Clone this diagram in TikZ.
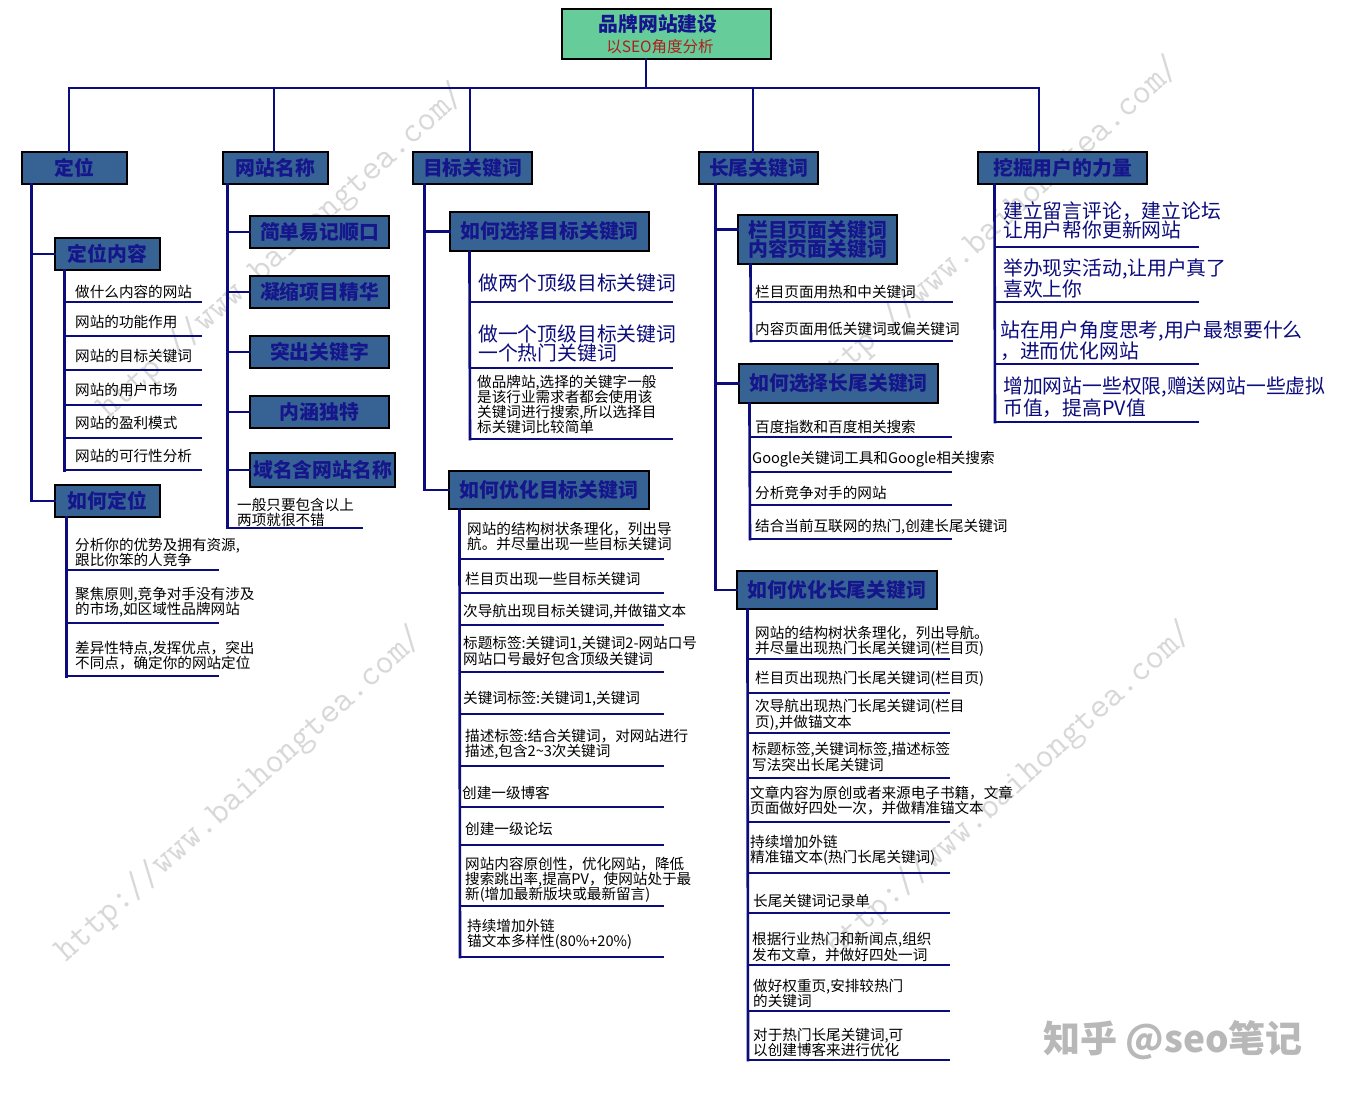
\documentclass[tikz,border=0pt]{standalone}
\usepackage{fontspec}
\setmainfont{Noto Sans CJK SC}
\definecolor{navy}{RGB}{12,12,125}
\definecolor{boxblue}{RGB}{54,98,148}
\definecolor{boxtext}{RGB}{22,22,140}
\definecolor{rootgreen}{RGB}{102,204,153}
\definecolor{rootred}{RGB}{175,30,30}
\definecolor{wmgray}{RGB}{216,216,216}
\newcommand\ulitem[7]{%
  \node[itemtxt] (#1) at (#2,#3) {#4};
  \draw[conn] (#5,#6) -- (#7,#6);}
\newcommand\nvitem[7]{%
  \node[navytxt] (#1) at (#2,#3) {#4};
  \draw[conn] (#5,#6) -- (#7,#6);}
\begin{document}
\begin{tikzpicture}[x=1pt,y=-1pt,
  conn/.style={draw=navy,line width=2.6pt,line cap=rect},
  bbox/.style={draw=black,line width=1.1pt,fill=boxblue,text=boxtext,
    font=\fontsize{19.8}{19.5}\selectfont\bfseries,inner sep=0pt,align=center},
  itemtxt/.style={anchor=west,inner sep=0pt,align=left,text=black,
    font=\fontsize{14.6}{15.2}\selectfont},
  navytxt/.style={anchor=west,inner sep=0pt,align=left,text=navy,
    font=\fontsize{19.8}{19}\selectfont},
  wmark/.style={text=wmgray,font=\fontsize{36}{36}\selectfont\ttfamily,rotate=42,inner sep=0pt}]
\fill[white] (0,0) rectangle (1354,1095);
\useasboundingbox (0,0) rectangle (1354,1095);

% watermarks
\node[wmark] (wm1) at (240,795) {http://www.baihongtea.com/};
\node[wmark] (wm2) at (282,252) {http://www.baihongtea.com/};
\node[wmark] (wm3) at (997,225) {http://www.baihongtea.com/};
\node[wmark] (wm4) at (1010,790) {http://www.baihongtea.com/};
\node[anchor=west,inner sep=0pt,text=black!28,font=\fontsize{37}{37}\selectfont\bfseries] (zh) at (1043,1040) {知乎 @seo笔记};

% root
\node[draw=black,line width=1.1pt,fill=rootgreen,minimum width=209pt,minimum height=50pt,inner sep=0pt] (root) at (666.5,34) {};
\node[inner sep=0pt,text=boxtext,font=\fontsize{19.8}{22}\selectfont\bfseries] (rt) at (658,24) {品牌网站建设};
\node[inner sep=0pt,text=rootred,font=\fontsize{15.5}{18}\selectfont] (rs) at (660,47) {以SEO角度分析};

% level 1 boxes
\node[bbox,minimum width=105pt,minimum height=32pt] (dw) at (74.5,168) {定位};
\node[bbox,minimum width=105pt,minimum height=32pt] (wz) at (275.5,168) {网站名称};
\node[bbox,minimum width=119pt,minimum height=32pt] (mb) at (472.5,168) {目标关键词};
\node[bbox,minimum width=119pt,minimum height=32pt] (cw) at (758.5,168) {长尾关键词};
\node[bbox,minimum width=169pt,minimum height=32pt] (wj) at (1062.5,168) {挖掘用户的力量};

% bus
\coordinate (rj) at (646,88);
\coordinate (j1) at (69,88);
\coordinate (j2) at (274,88);
\coordinate (j3) at (470,88);
\coordinate (j4) at (753,88);
\coordinate (j5) at (1039,88);
\draw[conn] (rj |- root.south) -- (rj);
\draw[conn] (j1) -- (j5);
\draw[conn] (j1) -- (j1 |- dw.north);
\draw[conn] (j2) -- (j2 |- wz.north);
\draw[conn] (j3) -- (j3 |- mb.north);
\draw[conn] (j4) -- (j4 |- cw.north);
\draw[conn] (j5) -- (j5 |- wj.north);

% ---------- column 1 ----------
\node[bbox,minimum width=105pt,minimum height=32pt] (dwnr) at (107.5,254) {定位内容};
\node[bbox,minimum width=105pt,minimum height=32pt] (hwdw) at (107.5,501) {如何定位};
\coordinate (T1) at ([xshift=10pt]dw.south west);
\draw[conn] (T1) |- (hwdw.west);
\draw[conn] (T1 |- dwnr.west) -- (dwnr.west);
\draw[conn] ([xshift=10pt]dwnr.south west) -- ++(0,200);
\ulitem{a1}{75}{292}{做什么内容的网站}{65}{302}{201}
\ulitem{a2}{75}{322}{网站的功能作用}{65}{336}{201}
\ulitem{a3}{75}{356}{网站的目标关键词}{65}{370}{201}
\ulitem{a4}{75}{390}{网站的用户市场}{65}{405}{201}
\ulitem{a5}{75}{423}{网站的盈利模式}{65}{438}{201}
\ulitem{a6}{75}{456}{网站的可行性分析}{65}{470}{201}
\draw[conn] ([xshift=12pt]hwdw.south west) -- ++(0,159);
\ulitem{b1}{75}{552.5}{分析你的优势及拥有资源,\\跟比你笨的人竞争}{67}{570}{218}
\ulitem{b2}{75}{602.5}{聚焦原则,竞争对手没有涉及\\的市场,如区域性品牌网站}{67}{623}{218}
\ulitem{b3}{75}{655.5}{差异性特点,发挥优点，突出\\不同点，确定你的网站定位}{67}{676}{218}

% ---------- column 2 ----------
\node[bbox,minimum width=139pt,minimum height=32pt] (jd) at (319.5,232) {简单易记顺口};
\node[bbox,minimum width=139pt,minimum height=32pt] (ns) at (319.5,292) {凝缩项目精华};
\node[bbox,minimum width=139pt,minimum height=32pt] (tc) at (319.5,352) {突出关键字};
\node[bbox,minimum width=139pt,minimum height=32pt] (nh) at (319.5,412) {内涵独特};
\node[bbox,minimum width=145pt,minimum height=34pt] (ym) at (322.5,470) {域名含网站名称};
\coordinate (T2) at ([xshift=5pt]wz.south west);
\draw[conn] (T2) |- (362,528);
\draw[conn] (T2 |- jd.west) -- (jd.west);
\draw[conn] (T2 |- ns.west) -- (ns.west);
\draw[conn] (T2 |- tc.west) -- (tc.west);
\draw[conn] (T2 |- nh.west) -- (nh.west);
\draw[conn] (T2 |- ym.west) -- (ym.west);
\node[itemtxt] (n2) at (237,512.5) {一般只要包含以上\\两项就很不错};

% ---------- column 3 ----------
\node[bbox,minimum width=199pt,minimum height=39pt] (xz) at (549.5,231.5) {如何选择目标关键词};
\node[bbox,minimum width=200pt,minimum height=38pt] (yh) at (549,490) {如何优化目标关键词};
\coordinate (T3) at ([xshift=12pt]mb.south west);
\draw[conn] (T3) |- (yh.west);
\draw[conn] (T3 |- xz.west) -- (xz.west);
\draw[conn] ([xshift=20pt]xz.south west) -- (470,439);
\nvitem{c1}{478}{283}{做两个顶级目标关键词}{470}{302}{672}
\nvitem{c2}{478}{343.5}{做一个顶级目标关键词\\一个热门关键词}{470}{368}{672}
\ulitem{c3}{477}{404.5}{做品牌站,选择的关键字一般\\是该行业需求者都会使用该\\关键词进行搜索,所以选择目\\标关键词比较简单}{470}{439}{672}
\draw[conn] ([xshift=11pt]yh.south west) -- (460,957);
\ulitem{d1}{467}{536.5}{网站的结构树状条理化，列出导\\航。并尽量出现一些目标关键词}{460}{559}{663}
\ulitem{d2}{465}{579}{栏目页出现一些目标关键词}{460}{593}{663}
\ulitem{d3}{463}{612}{次导航出现目标关键词,并做锚文本}{460}{625}{663}
\ulitem{d4}{463}{651}{标题标签:关键词1,关键词2-网站口号\\网站口号最好包含顶级关键词}{460}{672}{663}
\ulitem{d5}{463}{699}{关键词标签:关键词1,关键词}{460}{714}{663}
\ulitem{d6}{465}{744.5}{描述标签:结合关键词，对网站进行\\描述,包含2\textasciitilde3次关键词}{460}{766}{663}
\ulitem{d7}{462}{793}{创建一级博客}{460}{807}{663}
\ulitem{d8}{465}{829}{创建一级论坛}{460}{845}{663}
\ulitem{d9}{465}{880}{网站内容原创性，优化网站，降低\\搜索跳出率,提高PV，使网站处于最\\新(增加最新版块或最新留言)}{460}{906}{663}
\ulitem{d10}{467}{934.5}{持续增加外链\\锚文本多样性(80\%+20\%)}{460}{957}{663}

% ---------- column 4 ----------
\node[bbox,minimum width=159pt,minimum height=49pt] (lm) at (817.5,239.5) {栏目页面关键词\\内容页面关键词};
\node[bbox,minimum width=199pt,minimum height=39pt] (xc) at (838.5,383.5) {如何选择长尾关键词};
\node[bbox,minimum width=200pt,minimum height=38pt] (yc) at (837,590) {如何优化长尾关键词};
\coordinate (T4) at ([xshift=17pt]cw.south west);
\coordinate (lmw) at ([yshift=10pt]lm.west);
\draw[conn] (T4) |- (yc.west);
\draw[conn] (T4 |- lmw) -- (lmw);
\draw[conn] (T4 |- xc.west) -- (xc.west);
\draw[conn] ([xshift=13pt]lm.south west) -- (751,341);
\ulitem{e1}{755}{292}{栏目页面用热和中关键词}{751}{302}{952}
\ulitem{e2}{755}{329}{内容页面用低关键词或偏关键词}{751}{341}{952}
\draw[conn] ([xshift=11pt]xc.south west) -- (750,539);
\ulitem{f1}{755}{427}{百度指数和百度相关搜索}{750}{437}{951}
\ulitem{f2}{752}{459}{Google关键词工具和Google相关搜索}{750}{472}{951}
\ulitem{f3}{755}{493}{分析竞争对手的网站}{750}{505}{951}
\ulitem{f4}{755}{527}{结合当前互联网的热门,创建长尾关键词}{750}{539}{951}
\draw[conn] ([xshift=11pt]yc.south west) -- (748,1060);
\ulitem{g1}{755}{641}{网站的结构树状条理化，列出导航。\\并尽量出现热门长尾关键词(栏目页)}{748}{659}{949}
\ulitem{g2}{755}{679}{栏目页出现热门长尾关键词(栏目页)}{748}{693}{949}
\ulitem{g3}{755}{714.5}{次导航出现热门长尾关键词(栏目\\页),并做锚文本}{748}{733}{949}
\ulitem{g4}{752}{757}{标题标签,关键词标签,描述标签\\写法突出长尾关键词}{748}{778}{949}
\ulitem{g5}{750}{800.5}{文章内容为原创或者来源电子书籍，文章\\页面做好四处一次，并做精准锚文本}{748}{822}{949}
\ulitem{g6}{750}{850}{持续增加外链\\精准锚文本(热门长尾关键词)}{748}{873}{949}
\ulitem{g7}{753}{901}{长尾关键词记录单}{748}{913}{949}
\ulitem{g8}{752}{947}{根据行业热门和新闻点,组织\\发布文章，并做好四处一词}{748}{965}{949}
\ulitem{g9}{753}{993.5}{做好权重页,安排较热门\\的关键词}{748}{1011}{949}
\ulitem{g10}{753}{1042.5}{对于热门长尾关键词,可\\以创建博客来进行优化}{748}{1060}{949}

% ---------- column 5 ----------
\draw[conn] ([xshift=17pt]wj.south west) -- (995,422);
\nvitem{h1}{1003}{220}{建立留言评论，建立论坛\\让用户帮你更新网站}{995}{247}{1198}
\nvitem{h2}{1003}{278.5}{举办现实活动,让用户真了\\喜欢上你}{995}{302}{1198}
\nvitem{h3}{1000}{340.5}{站在用户角度思考,用户最想要什么\\，进而优化网站}{995}{364}{1198}
\nvitem{h4}{1003}{397}{增加网站一些权限,赠送网站一些虚拟\\币值，提高PV值}{995}{422}{1198}
\end{tikzpicture}
\end{document}
